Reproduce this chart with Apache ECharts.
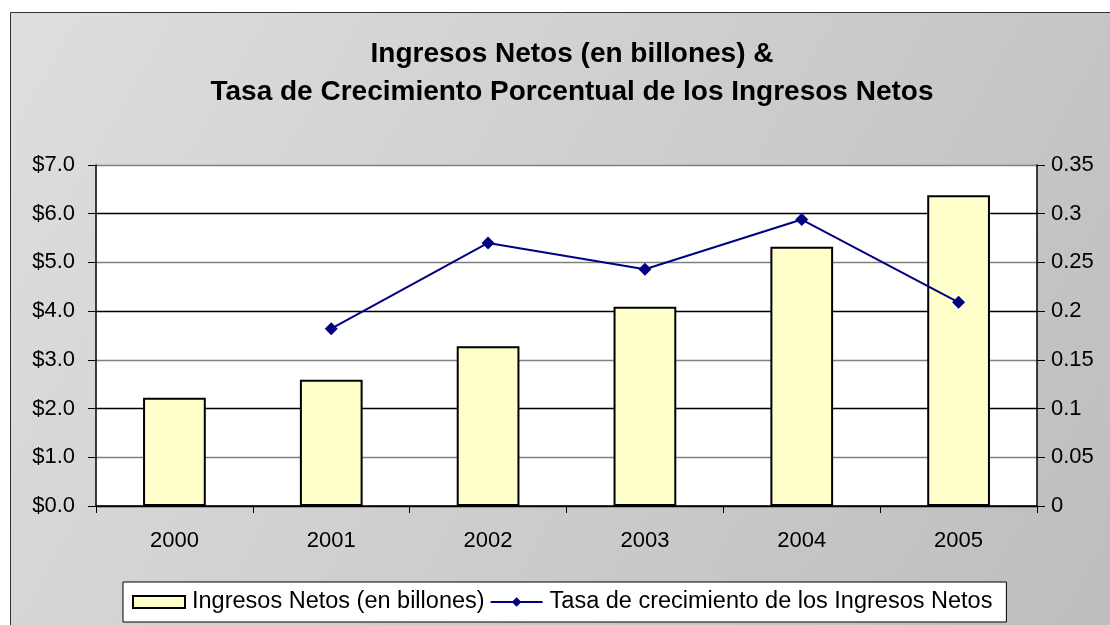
<!DOCTYPE html>
<html>
<head>
<meta charset="utf-8">
<script src="https://cdn.jsdelivr.net/npm/echarts@6/dist/echarts.min.js"></script>
<style>
html,body{margin:0;padding:0;background:#fff;}
#chart{width:1110px;height:625px;}
</style>
</head>
<body>
<div id="chart"></div>
<script>
const years = ['2000','2001','2002','2003','2004','2005'];
const ingresos = [2.22, 2.59, 3.28, 4.09, 5.32, 6.38];
const tasa = [null, 0.182, 0.270, 0.243, 0.294, 0.209];
const titleLines = ['Ingresos Netos (en billones) &', 'Tasa de Crecimiento Porcentual de los Ingresos Netos'];
const seriesNames = ['Ingresos Netos (en billones)', 'Tasa de crecimiento de los Ingresos Netos'];

const FONT = '"Liberation Sans", Arial, sans-serif';
const chart = echarts.init(document.getElementById('chart'), null, {renderer:'canvas'});
chart.setOption({
  animation:false,
  backgroundColor:'#ffffff',
  textStyle:{fontFamily:FONT},
  graphic:[{
    type:'rect', z:-10, silent:true,
    shape:{x:10.5, y:12.5, width:1110, height:630},
    style:{
      fill:new echarts.graphic.LinearGradient(0,0,1,1,[{offset:0,color:'#dedede'},{offset:1,color:'#bdbdbd'}]),
      stroke:'#333', lineWidth:1
    }
  }],
  title:{
    text:titleLines.join('\n'),
    left:567, top:30, textAlign:'center',
    textStyle:{fontFamily:FONT, fontSize:28, fontWeight:'bold', color:'#000', lineHeight:38}
  },
  legend:{
    left:123, top:582,
    padding:[8,14,8,9],
    borderColor:'#000', borderWidth:1, backgroundColor:'#fff',
    itemGap:5, itemWidth:52, itemHeight:12,
    textStyle:{fontFamily:FONT, fontSize:23.5, color:'#000', padding:[0,0,0,2]},
    data:[{name:seriesNames[0], icon:'rect'}, {name:seriesNames[1]}]
  },
  grid:{left:96, right:73, top:165, bottom:119, show:true, backgroundColor:'#ffffff', borderWidth:0},
  xAxis:{
    type:'category', data:years,
    axisLine:{lineStyle:{color:'#000', width:1.5}},
    axisTick:{show:true, length:7, lineStyle:{color:'#000'}},
    axisLabel:{fontFamily:FONT, fontSize:22, color:'#000', margin:24}
  },
  yAxis:[{
    type:'value', min:0, max:7, interval:1, position:'left',
    axisLine:{show:true, lineStyle:{color:'#000', width:1.5}},
    axisTick:{show:true, length:8, lineStyle:{color:'#000'}},
    axisLabel:{fontFamily:FONT, fontSize:22, color:'#000', margin:21, formatter:v=>'$'+v.toFixed(1)},
    splitLine:{show:true, lineStyle:{color:['#000','#808080','#000','#808080','#000','#808080','#000','#808080'], width:1.3}}
  },{
    type:'value', min:0, max:0.35, interval:0.05, position:'right',
    axisLine:{show:true, lineStyle:{color:'#000', width:1.5}},
    axisTick:{show:true, length:8, lineStyle:{color:'#000'}},
    axisLabel:{fontFamily:FONT, fontSize:22, color:'#000', margin:14, formatter:v=>String(+v.toFixed(2))},
    splitLine:{show:false}
  }],
  series:[{
    name:seriesNames[0], type:'bar', data:ingresos, yAxisIndex:0,
    barWidth:'40%',
    itemStyle:{color:'#FFFFCC', borderColor:'#000', borderWidth:2}
  },{
    name:seriesNames[1], type:'line', data:tasa, yAxisIndex:1,
    symbol:'diamond', symbolSize:13,
    lineStyle:{color:'#000080', width:2},
    itemStyle:{color:'#000080'}
  }]
});
</script>
</body>
</html>
